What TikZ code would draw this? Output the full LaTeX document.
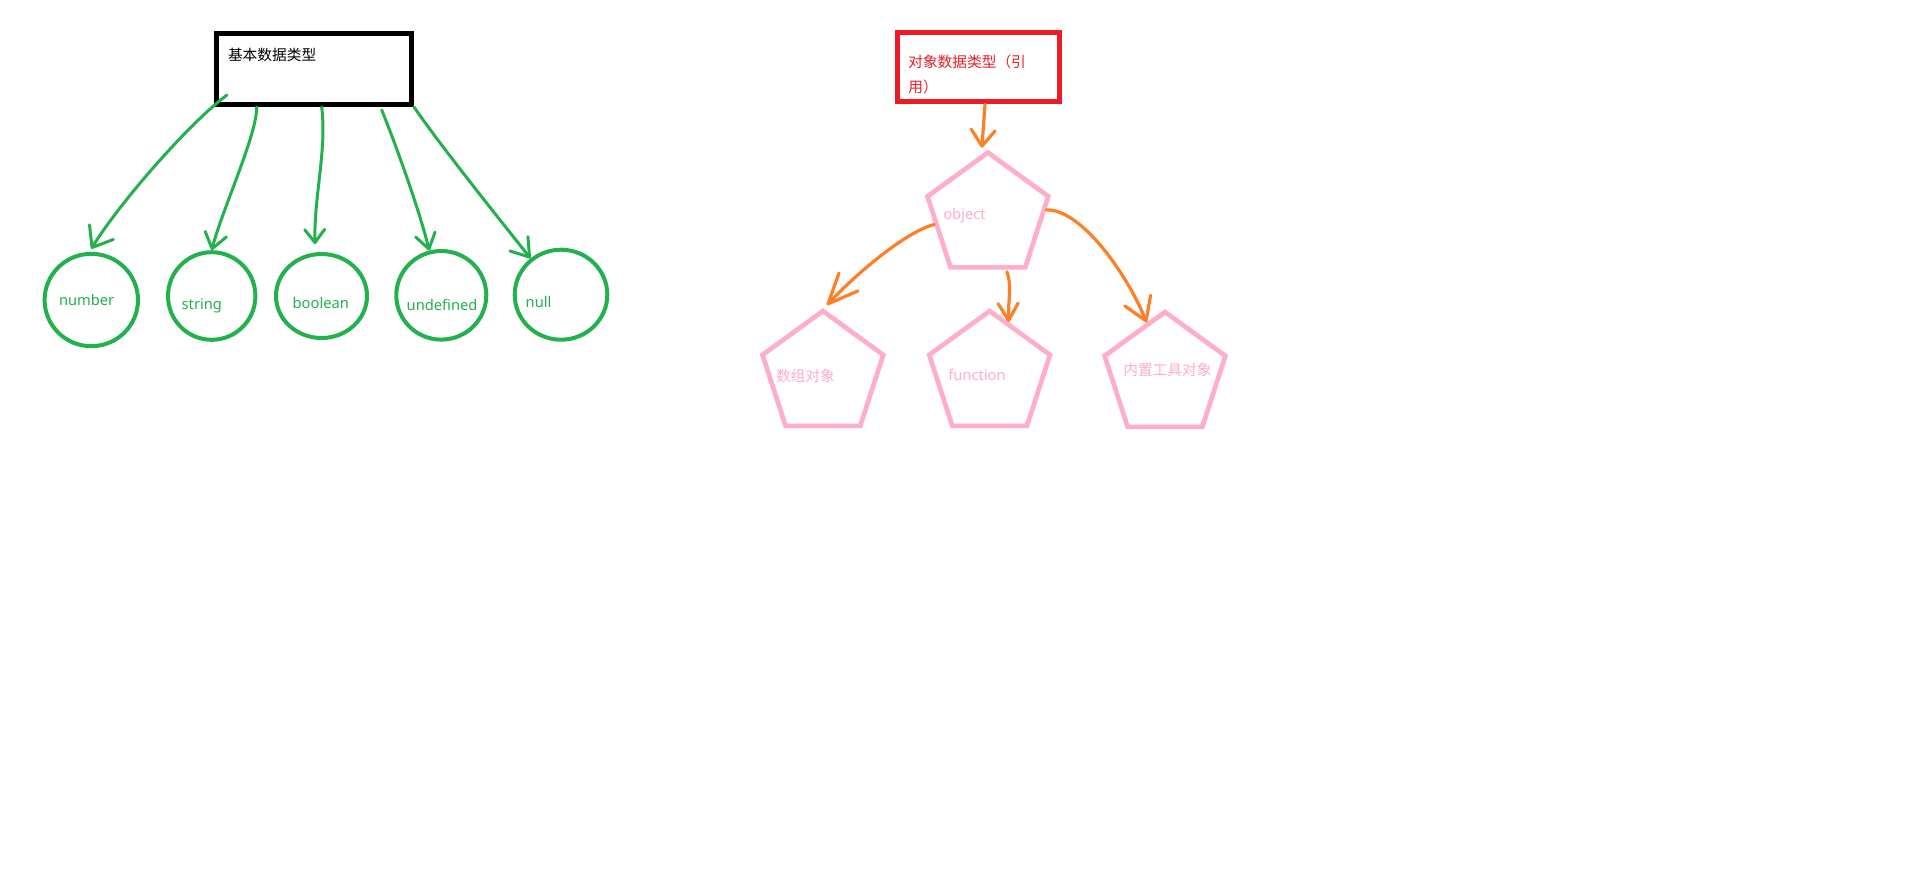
\documentclass[tikz,border=0pt]{standalone}
\usepackage{fontspec}
\setmainfont{Noto Sans}
\newfontfamily\cjk{Noto Sans CJK SC}
\usetikzlibrary{arrows.meta,shapes.geometric}
\definecolor{pgreen}{RGB}{34,177,76}
\definecolor{porange}{RGB}{255,127,39}
\definecolor{ppink}{RGB}{255,174,201}
\definecolor{pred}{RGB}{237,28,36}
\tikzset{
  txt/.style={inner sep=0pt,outer sep=0pt,font=\fontsize{14.7pt}{17pt}\selectfont},
  cjktxt/.style={inner sep=0pt,outer sep=0pt,font=\cjk\fontsize{14.7pt}{25pt}\selectfont},
  blackbox/.style={draw=black,line width=5pt,rectangle,inner sep=0pt},
  redbox/.style={draw=pred,line width=5pt,rectangle,inner sep=0pt},
  gcirc/.style={draw=pgreen,line width=4pt,ellipse,inner sep=0pt},
  penta/.style={draw=ppink,line width=4.7pt,regular polygon,regular polygon sides=5,minimum size=127pt,inner sep=0pt},
  garrow/.style 2 args={draw=pgreen,line width=3pt,line cap=round,-{Straight Barb[length=#1,width=#2,round]}},
  oarrow/.style 2 args={draw=porange,line width=3.2pt,line cap=round,-{Straight Barb[length=#1,width=#2,round]}}
}
\begin{document}
\begin{tikzpicture}[x=1pt,y=-1pt]
\fill[white] (0,0) rectangle (1913,895);
\useasboundingbox (0,0) rectangle (1913,895);

% left group
\node[blackbox,minimum width=195pt,minimum height=71pt] (b) at (314,69) {};
\node[cjktxt,anchor=west,text=black] (bt) at (228,55) {基本数据类型};

\node[gcirc,minimum width=93.4pt,minimum height=92.4pt] (num) at (91.3,300) {};
\node[gcirc,minimum width=87.4pt,minimum height=87.6pt] (str) at (211.7,296) {};
\node[gcirc,minimum width=91pt,minimum height=84pt] (boo) at (321.5,296) {};
\node[gcirc,minimum width=90pt,minimum height=88.6pt] (und) at (441.3,295.3) {};
\node[gcirc,minimum width=92.6pt,minimum height=90pt] (nul) at (561,294.7) {};

\node[txt,anchor=base west,text=pgreen] (tnum) at (59,305) {number};
\node[txt,anchor=base west,text=pgreen] (tstr) at (181.7,309.5) {string};
\node[txt,anchor=base west,text=pgreen] (tboo) at (292.7,308.3) {boolean};
\node[txt,anchor=base west,text=pgreen] (tund) at (406.7,310) {undefined};
\node[txt,anchor=base west,text=pgreen] (tnul) at (525.7,307.3) {null};

\draw[garrow={18pt}{28pt}] ([xshift=13pt,yshift=12pt]b.south west) .. controls (188,124) and (118,205) .. ([yshift=3pt]num.north);
\draw[garrow={15pt}{22pt}] ([xshift=42.7pt]b.south west) .. controls (257,135) and (222,210) .. (str.north);
\draw[garrow={13pt}{20pt}] ([xshift=107.7pt]b.south west) .. controls (327,150) and (314,195) .. ([xshift=-6.5pt,yshift=8pt]boo.north);
\draw[garrow={15pt}{20pt}] ([xshift=167.7pt,yshift=-3pt]b.south west) .. controls (392,135) and (418,205) .. (und.105);
\draw[garrow={17pt}{23pt}] (b.south east) .. controls (440,145) and (500,220) .. (nul.130);

% right group
\node[redbox,minimum width=161.4pt,minimum height=69.3pt] (r) at (978.5,67.2) {};
\node[cjktxt,anchor=west,align=left,text=pred] (rt) at (908.3,74.2) {对象数据类型（引\\用）};

\node[penta] (obj) at (987.9,216) {};
\node[penta] (arr) at (822.9,374.5) {};
\node[penta] (fun) at (989.6,374.5) {};
\node[penta] (inn) at (1165,375.5) {};

\node[txt,anchor=base west,text=ppink] (tobj) at (943.3,219.5) {object};
\node[txt,anchor=base west,text=ppink] (tfun) at (948.3,380) {function};
\node[cjktxt,anchor=west,text=ppink] (tarr) at (776,375.5) {数组对象};
\node[cjktxt,anchor=west,text=ppink] (tinn) at (1123.3,369.5) {内置工具对象};

\draw[oarrow={16pt}{24pt}] ([xshift=89.7pt]r.south west) -- ([xshift=-6pt,yshift=2pt]obj.corner 1);
\draw[oarrow={30pt}{26pt}] (obj.189) .. controls (905,232) and (855,275) .. ([xshift=4pt,yshift=3pt]arr.corner 1);
\draw[oarrow={17pt}{20pt}] ([xshift=19pt,yshift=-2pt]obj.south) .. controls (1012,285) and (1008,300) .. (fun.70);
\draw[oarrow={22pt}{28pt}] (obj.6) .. controls (1080,209) and (1125,270) .. (inn.109);
\end{tikzpicture}
\end{document}
